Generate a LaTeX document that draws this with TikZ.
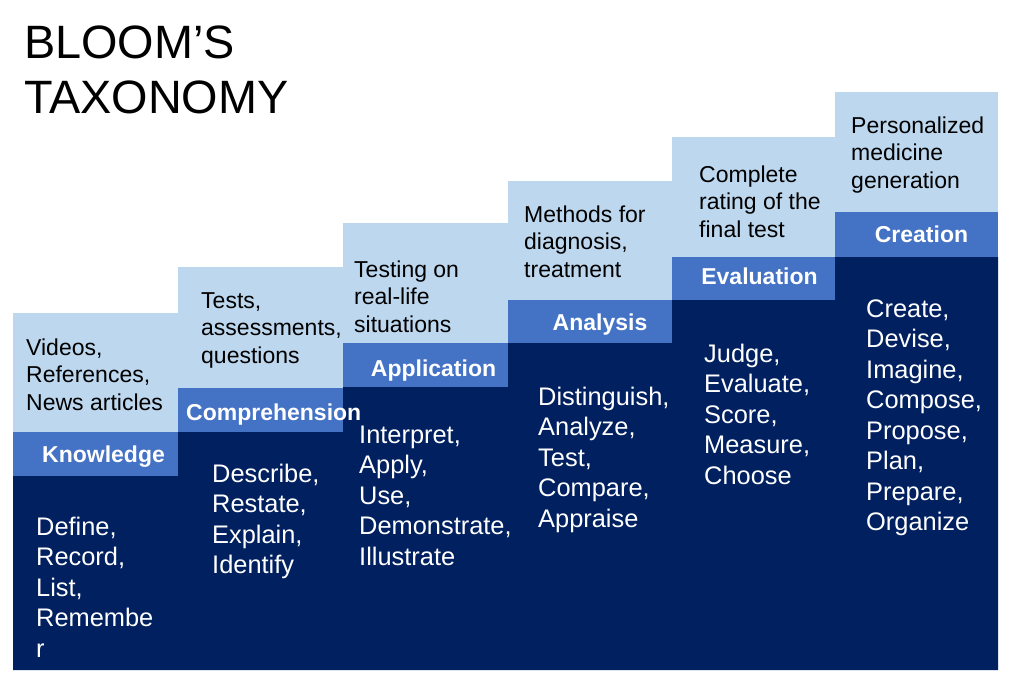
\documentclass[tikz,border=0pt]{standalone}
\usepackage{fontspec}
\setmainfont{Liberation Sans}
\definecolor{lightblue}{HTML}{BDD7EE}
\definecolor{midblue}{HTML}{4472C4}
\definecolor{darkblue}{HTML}{002060}
\begin{document}
\begin{tikzpicture}[x=1pt,y=-1pt,
  lighttxt/.style={anchor=north west, inner sep=0pt, align=left, font=\fontsize{23}{27.5}\selectfont, text=black},
  darktxt/.style={anchor=north west, inner sep=0pt, align=left, font=\fontsize{25.4}{30.5}\selectfont, text=white},
  lbl/.style={anchor=base, inner sep=0pt, font=\fontsize{23}{27.5}\selectfont\bfseries, text=white},
  lightbox/.style={fill=lightblue},
  band/.style={fill=midblue},
  dark/.style={fill=darkblue}]
\useasboundingbox[fill=white] (0,0) rectangle (1024,678);
% title
\node[anchor=north west, inner sep=0pt, align=left, font=\fontsize{46.8}{55}\selectfont] (title) at (24,19.5) {\strut BLOOM’S\\TAXONOMY};
% light boxes
\fill[lightbox] (13,313) rectangle (178,432);
\fill[lightbox] (178,267) rectangle (343,388);
\fill[lightbox] (343,223) rectangle (508,343);
\fill[lightbox] (508,181) rectangle (672,300);
\fill[lightbox] (672,137) rectangle (835,257);
\fill[lightbox] (835,92) rectangle (998,212);
% bands
\fill[band] (13,432) rectangle (178,476);
\fill[band] (178,388) rectangle (343,432);
\fill[band] (343,343) rectangle (508,387);
\fill[band] (508,300) rectangle (672,343);
\fill[band] (672,257) rectangle (835,300);
\fill[band] (835,212) rectangle (998,257);
% dark region
\fill[dark] (13,476) -- (178,476) -- (178,432) -- (343,432) -- (343,387) -- (508,387) -- (508,343) -- (672,343) -- (672,300) -- (835,300) -- (835,257) -- (998,257) -- (998,670) -- (13,670) -- cycle;
% light texts
\node[lighttxt] (l1) at (26,335.75) {\strut Videos,\\References,\\News articles};
\node[lighttxt] (l2) at (201,288.75) {\strut Tests,\\assessments,\\questions};
\node[lighttxt] (l3) at (354,257.75) {\strut Testing on\\real-life\\situations};
\node[lighttxt] (l4) at (524,202.75) {\strut Methods for\\diagnosis,\\treatment};
\node[lighttxt] (l5) at (699,162.75) {\strut Complete\\rating of the\\final test};
\node[lighttxt] (l6) at (851,113.75) {\strut Personalized\\medicine\\generation};
% band labels
\node[lbl] (b1) at (103.5,462) {Knowledge};
\node[lbl, anchor=base west] (b2) at (186,420) {Comprehension};
\node[lbl] (b3) at (433.5,376) {Application};
\node[lbl] (b4) at (600,330) {Analysis};
\node[lbl] (b5) at (759.5,284) {Evaluation};
\node[lbl] (b6) at (921.5,242) {Creation};
% dark texts
\node[darktxt] (d1) at (36,513.65) {\strut Define,\\Record,\\List,\\Remembe\\r};
\node[darktxt] (d2) at (212,460.65) {\strut Describe,\\Restate,\\Explain,\\Identify};
\node[darktxt] (d3) at (359,421.65) {\strut Interpret,\\Apply,\\Use,\\Demonstrate,\\Illustrate};
\node[darktxt] (d4) at (538,383.65) {\strut Distinguish,\\Analyze,\\Test,\\Compare,\\Appraise};
\node[darktxt] (d5) at (704,340.65) {\strut Judge,\\Evaluate,\\Score,\\Measure,\\Choose};
\node[darktxt] (d6) at (866,295.65) {\strut Create,\\Devise,\\Imagine,\\Compose,\\Propose,\\Plan,\\Prepare,\\Organize};
\end{tikzpicture}
\end{document}
